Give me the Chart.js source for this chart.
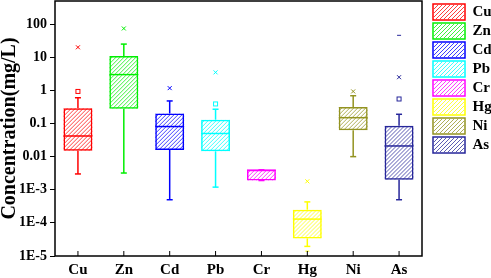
<!DOCTYPE html>
<html>
<head>
<meta charset="utf-8">
<script src="https://cdn.jsdelivr.net/npm/chart.js@4.4.1/dist/chart.umd.min.js"></script>
<style>
  html, body { margin: 0; padding: 0; background: #fff; }
  #wrap { width: 491px; height: 278px; }
</style>
</head>
<body>
<div id="wrap"><canvas id="chart" width="491" height="278"></canvas></div>
<script>
// box plot values
const categories = ['Cu', 'Zn', 'Cd', 'Pb', 'Cr', 'Hg', 'Ni', 'As'];
const whiskerLow  = [0.003, 0.0032, 0.0005, 0.0012, 0.0019, 0.0000195, 0.01, 0.0005];
const q1          = [0.015, 0.28, 0.016, 0.0145, 0.0019, 0.000034, 0.063, 0.002];
const median      = [0.042, 3, 0.081, 0.05, 0.0039, 0.00013, 0.15, 0.021];
const q3          = [0.29, 11, 0.2, 0.13, 0.004, 0.00025, 0.315, 0.085];
const whiskerHigh = [0.6, 25, 0.48, 0.27, 0.004, 0.00043, 0.69, 0.19];
const crossVals   = [20, 74, 1.17, 3.5, null, 0.0018, 0.93, 2.5];
const meanVals    = [0.93, null, null, 0.39, null, null, null, 0.55];
const dashVals    = [null, null, null, null, null, 0.000014, null, 46];

const yTickVals   = [1e-5, 1e-4, 1e-3, 0.01, 0.1, 1, 10, 100];
const yTickLabels = ['1E-5', '1E-4', '1E-3', '0.01', '0.1', '1', '10', '100'];

const colors = ['#ff0000', '#00ee00', '#0000ff', '#00ffff', '#ff00ff', '#ffff00', '#939320', '#26269a'];

const FONT = "'Liberation Serif', 'Times New Roman', serif";
const LEGEND_BOX = { w: 32, h: 16 };

const datasets = categories.map((name, i) => ({
  label: name,
  data: categories.map((_, j) => (j === i ? [q1[i], q3[i]] : null)),
  backgroundColor: 'rgba(255,255,255,0)',
  borderColor: colors[i],
  borderWidth: 1.5,
  borderSkipped: false,
  grouped: false,
  categoryPercentage: 1,
  barPercentage: 0.63
}));

function line(ctx, x1, y1, x2, y2) {
  ctx.beginPath();
  ctx.moveTo(x1, y1);
  ctx.lineTo(x2, y2);
  ctx.stroke();
}

// "///" hatching inside a rectangle
function hatchRect(ctx, left, top, w, h, color) {
  ctx.save();
  ctx.beginPath();
  ctx.rect(left, top, w, h);
  ctx.clip();
  ctx.strokeStyle = color;
  ctx.globalAlpha = 0.75;
  ctx.lineWidth = 1;
  ctx.beginPath();
  for (let t = left - h; t < left + w + 4; t += 4) {
    ctx.moveTo(t, top + h);
    ctx.lineTo(t + h, top);
  }
  ctx.stroke();
  ctx.restore();
}

const boxExtras = {
  id: 'boxExtras',
  beforeDatasetsDraw(chart) {
    const { ctx } = chart;
    categories.forEach((_, i) => {
      const bar = chart.getDatasetMeta(i).data[i];
      const top = Math.min(bar.y, bar.base);
      const h = Math.abs(bar.base - bar.y);
      hatchRect(ctx, bar.x - bar.width / 2, top, bar.width, h, colors[i]);
    });
  },
  afterDatasetsDraw(chart) {
    const { ctx, scales: { x, y } } = chart;
    ctx.save();
    categories.forEach((_, i) => {
      const cx = x.getPixelForValue(i);
      const bar = chart.getDatasetMeta(i).data[i];
      const half = bar.width / 2;
      ctx.strokeStyle = colors[i];
      ctx.lineWidth = 1.5;
      const yHi = y.getPixelForValue(whiskerHigh[i]);
      const yLo = y.getPixelForValue(whiskerLow[i]);
      line(ctx, cx, y.getPixelForValue(q3[i]), cx, yHi);
      line(ctx, cx, y.getPixelForValue(q1[i]), cx, yLo);
      line(ctx, cx - 3, yHi, cx + 3, yHi);
      line(ctx, cx - 3, yLo, cx + 3, yLo);
      const ym = y.getPixelForValue(median[i]);
      line(ctx, cx - half, ym, cx + half, ym);

      ctx.lineWidth = 1;
      if (crossVals[i] != null) {
        const yc = y.getPixelForValue(crossVals[i]);
        line(ctx, cx - 2, yc - 2, cx + 2, yc + 2);
        line(ctx, cx - 2, yc + 2, cx + 2, yc - 2);
      }
      if (meanVals[i] != null) {
        const ys = y.getPixelForValue(meanVals[i]);
        ctx.strokeRect(cx - 2, ys - 2, 4, 4);
      }
      if (dashVals[i] != null) {
        const yd = y.getPixelForValue(dashVals[i]);
        line(ctx, cx - 2, yd, cx + 2, yd);
      }
    });
    ctx.restore();
  },
  afterDraw(chart) {
    const { ctx, chartArea: a, scales: { x } } = chart;
    ctx.save();
    ctx.strokeStyle = '#000';
    ctx.lineWidth = 1.5;
    ctx.strokeRect(a.left, a.top, a.right - a.left, a.bottom - a.top);
    ctx.lineWidth = 1;
    categories.forEach((_, i) => {
      const px = x.getPixelForValue(i);
      line(ctx, px, a.bottom, px, a.bottom - 5);
    });
    ctx.restore();
    // hatch the legend swatches too
    (chart.legend.legendHitBoxes || []).forEach((hb, i) => {
      hatchRect(ctx, hb.left + 1, hb.top + 1, LEGEND_BOX.w - 2, LEGEND_BOX.h - 2, colors[i]);
    });
  }
};

new Chart(document.getElementById('chart'), {
  type: 'bar',
  data: { labels: categories, datasets },
  options: {
    responsive: false,
    animation: false,
    layout: { padding: { top: 1, right: 0, left: 0, bottom: 0 } },
    plugins: {
      tooltip: { enabled: false },
      legend: {
        position: 'right',
        align: 'start',
        maxWidth: 61,
        labels: {
          boxWidth: LEGEND_BOX.w,
          boxHeight: LEGEND_BOX.h,
          padding: 3,
          color: '#000',
          font: { family: FONT, size: 15, weight: 'bold' }
        }
      }
    },
    scales: {
      x: {
        type: 'category',
        grid: { display: false, drawTicks: false },
        border: { display: false },
        ticks: { color: '#000', padding: 5, font: { family: FONT, size: 15, weight: 'bold' } },
        afterFit(s) {
          s.height = 22;
          s.paddingLeft = 0; s.paddingRight = 0;
        }
      },
      y: {
        type: 'logarithmic',
        min: 1e-5,
        max: 500,
        border: { display: false },
        grid: { drawOnChartArea: false, drawTicks: true, tickLength: 5, color: '#000', lineWidth: 1 },
        ticks: {
          color: '#000',
          padding: 3,
          font: { family: FONT, size: 14, weight: 'bold' },
          callback: (v, i) => yTickLabels[i]
        },
        afterBuildTicks(s) { s.ticks = yTickVals.map(v => ({ value: v })); },
        title: {
          display: true,
          text: 'Concentration(mg/L)',
          color: '#000',
          padding: { top: 0, bottom: 0 },
          font: { family: FONT, size: 20, weight: 'bold', lineHeight: 1 }
        },
        afterFit(s) {
          s.width = 55;
          s.paddingTop = 0; s.paddingBottom = 0;
        }
      },
      gap: {
        type: 'linear',
        position: 'right',
        display: true,
        grid: { display: false },
        border: { display: false },
        ticks: { display: false },
        afterFit(s) { s.width = 8; }
      }
    }
  },
  plugins: [boxExtras]
});
</script>
</body>
</html>
